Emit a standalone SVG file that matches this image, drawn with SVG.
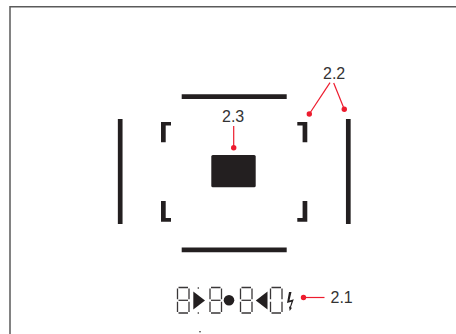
<svg xmlns="http://www.w3.org/2000/svg" width="456" height="334" viewBox="0 0 456 334">
<defs>
<path id="d0" class="s" d="M0.500 1.500V12.300M12 1.500V12.300M0.500 14.700V25M12 14.700V25M1.500 0.500H11M1.500 26H11"/>
<path id="dm" class="s" d="M1.500 13.300H11"/>
</defs>
<style>
.b{fill:none;stroke:#231f20;stroke-width:4.700;stroke-linecap:butt}
.s{fill:none;stroke:#3a3738;stroke-width:1.300}
.k{fill:#231f20}
.r{fill:none;stroke:#ed1c2e;stroke-width:1.200}
.o{fill:#ed1c2e}
text{font-family:"Liberation Sans",Arial,sans-serif;font-size:16px;fill:#333}
</style>
<rect width="456" height="334" fill="#fff"/>
<path id="frame" d="M10 334V6.700H456" fill="none" stroke="#5a5a5a" stroke-width="1.500"/>
<g id="viewfinder-frame">
<path class="b" d="M181.700 96.700H286.700M181.700 249.800H286.700M120.200 119V224M348.300 119V224"/>
<path class="k" d="M161 122H171V125.500H165.700V142.300H161ZM307.300 122H297.300V125.500H302.600V142.300H307.300ZM161 201H165.700V218H171V221.700H161ZM307.300 201H302.600V218H297.300V221.700H307.300Z"/>
</g>
<g id="spot"><rect class="k" x="211.300" y="155" width="44.400" height="32.300" rx="1.500"/></g>
<g id="display">
<use href="#d0" x="177" y="287"/><use href="#dm" x="177" y="287"/>
<path class="k" d="M193.300 291.500L205 300.500L193.300 309.500Z"/>
<circle class="k" cx="198.300" cy="288" r=".8"/>
<circle class="k" cx="198.300" cy="313" r=".8"/>
<use href="#d0" x="209.500" y="287"/><use href="#dm" x="209.500" y="287"/>
<circle class="k" cx="229" cy="300.300" r="5.300"/>
<use href="#d0" x="240" y="287"/><use href="#dm" x="240" y="287"/>
<path class="k" d="M267.500 291.500V309.500L255.800 300.500Z"/>
<use href="#d0" x="270" y="287"/>
<path class="k" d="M289 292H291.500L289.500 300.500L293.800 299.200L290.800 307.500L292 307.800L289.700 311L289 306.500L290 306.800L291.500 301.800L287 303Z"/>
<circle class="k" cx="200" cy="331.800" r=".8"/>
</g>
<g id="connectors">
<path class="r" d="M303.500 297.500H324.500"/><circle class="o" cx="303.500" cy="297.500" r="2.700"/>
<path class="r" d="M330 82.700L309.300 114"/><circle class="o" cx="309.300" cy="114" r="2.700"/>
<path class="r" d="M333.700 83L344.300 109.300"/><circle class="o" cx="344.300" cy="109.300" r="2.700"/>
<path class="r" d="M233.700 126V147.700"/><circle class="o" cx="233.700" cy="147.700" r="2.700"/>
</g>
<g id="labels">
<text x="330.500" y="302.500">2.1</text>
<text x="323" y="79">2.2</text>
<text x="222" y="122">2.3</text>
</g>
</svg>
